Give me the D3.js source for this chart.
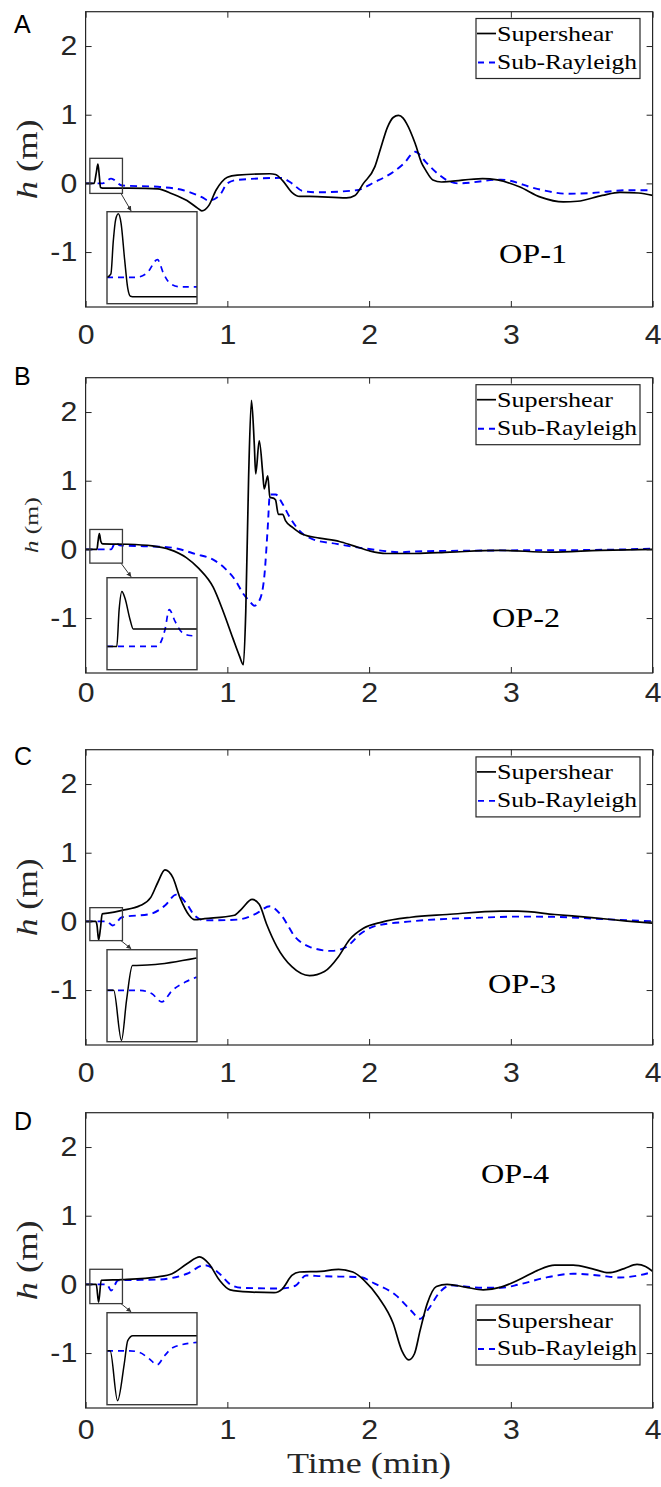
<!DOCTYPE html>
<html><head><meta charset="utf-8">
<script src="https://cdn.jsdelivr.net/npm/d3@7"></script>
<style>body{margin:0;background:#fff} svg{display:block}
.sans{font-family:"Liberation Sans",Arial,Helvetica,sans-serif}
.serif{font-family:"Liberation Serif","Times New Roman",Times,serif}
</style>
</head><body>
<script>
// ---------- labels / ticks ----------
const timeTicks = [0, 1, 2, 3, 4];
const hTicks = [-1, 0, 1, 2];
const panelLetters = ["A", "B", "C", "D"];
const opLabels = ["OP-1", "OP-2", "OP-3", "OP-4"];
const seriesNames = ["Supershear", "Sub-Rayleigh"];
const xTitle = "Time (min)";
const xDomain = [0, 4];
const hDomain = [-1.8, 2.5];
const insetTDomain = [0.03, 0.26];

// ---------- Panel A (OP-1) ----------
const superA_t = [0,0.06,0.075,0.087,0.097,0.105,0.12,0.3,0.51,0.61,0.715,0.79,0.82,0.87,0.92,0.96,1.0,1.07,1.30,1.34,1.39,1.455,1.51,1.58,1.84,1.9,1.96,2.04,2.08,2.13,2.17,2.207,2.24,2.265,2.325,2.37,2.40,2.45,2.51,2.575,2.80,2.905,3.06,3.21,3.37,3.47,3.645,3.77,3.9,4.0];
const superA_h = [0,0,0.15,0.28,0.1,-0.06,-0.068,-0.07,-0.08,-0.15,-0.25,-0.36,-0.40,-0.32,-0.1,0.02,0.09,0.12,0.14,0.13,0.04,-0.13,-0.19,-0.19,-0.21,-0.175,0,0.24,0.5,0.82,0.96,0.99,0.95,0.87,0.58,0.3,0.19,0.05,0.02,0.03,0.07,0.05,-0.05,-0.2,-0.27,-0.26,-0.175,-0.13,-0.14,-0.175];
const subA_t = [0,0.12,0.18,0.257,0.51,0.69,0.82,0.868,0.945,1.0,1.07,1.38,1.455,1.53,1.63,1.91,2.04,2.17,2.245,2.325,2.40,2.485,2.55,2.63,2.93,3.185,3.39,3.57,3.82,4.0];
const subA_h = [0,0,0.07,-0.03,-0.05,-0.1,-0.2,-0.25,-0.175,0,0.05,0.08,0,-0.11,-0.13,-0.1,0.02,0.165,0.29,0.46,0.31,0.14,0.045,0,0.055,-0.08,-0.15,-0.14,-0.1,-0.1];
const insetA_h = [-0.146, 0.365];
const insetSuperA_t = [0.03,0.04,0.046,0.052,0.059,0.066,0.075,0.083,0.09,0.1,0.26];
const insetSuperA_h = [0,0.02,0.2,0.32,0.353,0.3,0.1,-0.06,-0.105,-0.108,-0.108];
const insetSubA_t = [0.03,0.102,0.132,0.159,0.174,0.191,0.217,0.26];
const insetSubA_h = [0,0,0.024,0.099,0.024,-0.033,-0.052,-0.052];

// ---------- Panel B (OP-2) ----------
const superB_t = [0,0.08,0.088,0.097,0.107,0.12,0.3,0.47,0.59,0.71,0.80,0.90,0.97,1.04,1.085,1.113,1.13,1.15,1.17,1.19,1.20,1.225,1.25,1.26,1.285,1.30,1.33,1.34,1.36,1.39,1.41,1.46,1.53,1.65,1.79,1.885,2.0,2.12,2.33,2.57,2.92,3.28,3.63,4.0];
const superB_h = [0,0,0.12,0.23,0.12,0.08,0.075,0.05,0.0,-0.12,-0.28,-0.55,-0.9,-1.3,-1.55,-1.68,-0.9,1.05,2.17,1.53,1.1,1.58,1.1,0.88,1.07,0.76,0.74,0.72,0.51,0.51,0.42,0.32,0.22,0.165,0.115,0.055,-0.02,-0.06,-0.06,-0.04,-0.015,-0.04,-0.015,0.0];
const subB_t = [0,0.18,0.21,0.24,0.285,0.59,0.78,0.90,0.99,1.06,1.11,1.155,1.19,1.225,1.26,1.285,1.30,1.34,1.39,1.44,1.51,1.60,1.77,2.0,2.22,2.33,2.92,3.5,4.0];
const subB_h = [0,0,0.1,0.06,0.055,0.03,-0.07,-0.15,-0.29,-0.46,-0.64,-0.75,-0.82,-0.75,-0.41,0.32,0.80,0.80,0.66,0.47,0.27,0.15,0.08,0.005,-0.04,-0.03,-0.015,-0.01,0.01];
const insetB_h = [-0.2, 0.29];
const insetSuperB_t = [0.03,0.055,0.061,0.068,0.076,0.089,0.097,0.26];
const insetSuperB_h = [-0.076,-0.076,0.12,0.217,0.18,0.066,0.017,0.017];
const insetSubB_t = [0.03,0.157,0.178,0.189,0.204,0.221,0.242,0.26];
const insetSubB_h = [-0.076,-0.076,0.011,0.12,0.057,0.0,-0.018,-0.02];

// ---------- Panel C (OP-3) ----------
const superC_t = [0,0.07,0.08,0.092,0.105,0.117,0.156,0.257,0.385,0.46,0.51,0.56,0.615,0.665,0.73,0.767,0.84,1.05,1.10,1.175,1.225,1.275,1.35,1.455,1.58,1.685,1.785,1.86,1.96,2.09,2.295,2.55,2.93,3.05,3.31,3.57,3.82,4.0];
const superC_h = [0,0,-0.05,-0.27,-0.1,0.11,0.12,0.16,0.23,0.35,0.57,0.75,0.64,0.35,0.09,0.025,0.04,0.09,0.18,0.32,0.25,-0.03,-0.37,-0.66,-0.79,-0.73,-0.51,-0.27,-0.1,-0.01,0.06,0.1,0.15,0.15,0.1,0.055,0.005,-0.025];
const subC_t = [0,0.15,0.19,0.257,0.46,0.56,0.64,0.715,0.767,0.84,1.07,1.2,1.30,1.38,1.48,1.58,1.735,1.84,1.94,2.04,2.295,2.80,3.06,3.31,3.69,4.0];
const subC_h = [0,0,-0.06,0.06,0.11,0.23,0.39,0.25,0.09,0.015,0.025,0.11,0.22,0.09,-0.23,-0.37,-0.43,-0.37,-0.18,-0.07,0.0,0.055,0.07,0.065,0.03,0.0];
const insetC_h = [-0.28, 0.2];
const insetSuperC_t = [0.03,0.047,0.067,0.08,0.095,0.143,0.259];
const insetSuperC_h = [-0.012,-0.012,-0.273,-0.063,0.117,0.121,0.157];
const insetSubC_t = [0.03,0.112,0.144,0.17,0.197,0.23,0.259];
const insetSubC_h = [-0.012,-0.012,-0.029,-0.072,-0.012,0.031,0.057];

// ---------- Panel D (OP-4) ----------
const superD_t = [0,0.075,0.092,0.11,0.257,0.51,0.61,0.715,0.805,0.87,0.945,1.02,1.15,1.33,1.39,1.455,1.51,1.66,1.785,1.885,1.965,2.065,2.17,2.23,2.28,2.32,2.36,2.41,2.475,2.55,2.68,2.805,2.93,3.06,3.185,3.31,3.44,3.57,3.69,3.80,3.89,3.95,4.0];
const superD_h = [0,0,-0.26,0.06,0.07,0.11,0.155,0.3,0.4,0.3,0.06,-0.08,-0.11,-0.12,-0.06,0.13,0.18,0.19,0.22,0.18,0.06,-0.185,-0.57,-0.96,-1.10,-1.01,-0.67,-0.28,-0.03,0.0,-0.04,-0.08,-0.04,0.07,0.2,0.28,0.28,0.23,0.17,0.23,0.29,0.26,0.19];
const subD_t = [0,0.15,0.18,0.23,0.51,0.715,0.84,0.945,1.02,1.10,1.38,1.48,1.555,1.66,1.94,2.04,2.19,2.295,2.36,2.42,2.50,2.575,2.805,2.93,3.06,3.26,3.44,3.62,3.77,3.90,4.0];
const subD_h = [0,0,-0.09,0.06,0.07,0.155,0.28,0.155,0.0,-0.05,-0.06,-0.02,0.13,0.12,0.105,0.01,-0.16,-0.38,-0.5,-0.355,-0.11,-0.015,-0.05,-0.05,0.0,0.105,0.155,0.13,0.1,0.13,0.18];
const insetD_h = [-0.28, 0.22];
const insetSuperD_t = [0.03,0.038,0.057,0.074,0.083,0.096,0.26];
const insetSuperD_h = [0.013,0.013,-0.258,-0.059,0.068,0.095,0.095];
const insetSubD_t = [0.03,0.088,0.113,0.139,0.158,0.177,0.199,0.26];
const insetSubD_h = [0.013,0.013,0.004,-0.032,-0.063,-0.014,0.031,0.059];

const panels = [
  {sT:superA_t,sH:superA_h,rT:subA_t,rH:subA_h,iy:insetA_h,isT:insetSuperA_t,isH:insetSuperA_h,irT:insetSubA_t,irH:insetSubA_h},
  {sT:superB_t,sH:superB_h,rT:subB_t,rH:subB_h,iy:insetB_h,isT:insetSuperB_t,isH:insetSuperB_h,irT:insetSubB_t,irH:insetSubB_h},
  {sT:superC_t,sH:superC_h,rT:subC_t,rH:subC_h,iy:insetC_h,isT:insetSuperC_t,isH:insetSuperC_h,irT:insetSubC_t,irH:insetSubC_h},
  {sT:superD_t,sH:superD_h,rT:subD_t,rH:subD_h,iy:insetD_h,isT:insetSuperD_t,isH:insetSuperD_h,irT:insetSubD_t,irH:insetSubD_h}
];

// ---------- layout (pixels) ----------
const plotL = 85.6, plotR = 652.6, plotH = 295.3;
const layout = [
  {top:11.7,  lblPad:18, letterY:33,   op:[533,263],  leg:6.8,  ylab:{x:37, len:80, fs:24}},
  {top:377.7, lblPad:10, letterY:385,  op:[526,627],  leg:7.0,  ylab:{x:38, len:56, fs:16}},
  {top:749.7, lblPad:18, letterY:765,  op:[522,993],  leg:7.2,  ylab:{x:37, len:78, fs:24}},
  {top:1112.7,lblPad:12, letterY:1130, op:[515,1183], leg:192.3,ylab:{x:37, len:80, fs:24}}
];
const AX = "#262626";
const tickFmt = d => String(d);

const svg = d3.select("body").append("svg").attr("width", 661).attr("height", 1487);
svg.append("defs").append("marker").attr("id","arr").attr("viewBox","0 0 10 10")
  .attr("refX",9).attr("refY",5).attr("markerWidth",5).attr("markerHeight",5).attr("orient","auto")
  .append("path").attr("d","M0,0 L10,5 L0,10 z").attr("fill","#333");

const x = d3.scaleLinear().domain(xDomain).range([plotL, plotR]);

panels.forEach((p, i) => {
  const L = layout[i];
  const top = L.top, bot = L.top + plotH;
  const y = d3.scaleLinear().domain(hDomain).range([bot, top]);
  const g = svg.append("g");

  const clipId = "clip" + i;
  svg.select("defs").append("clipPath").attr("id", clipId)
    .append("rect").attr("x", plotL).attr("y", top).attr("width", plotR - plotL).attr("height", plotH);

  const line = d3.line().x(d => x(d[0])).y(d => y(d[1])).curve(d3.curveMonotoneX);
  const cg = g.append("g").attr("clip-path", `url(#${clipId})`);
  cg.append("path").datum(d3.zip(p.rT, p.rH)).attr("d", line)
    .attr("fill","none").attr("stroke","#0000ff").attr("stroke-width",1.9).attr("stroke-dasharray","7,5");
  cg.append("path").datum(d3.zip(p.sT, p.sH)).attr("d", line)
    .attr("fill","none").attr("stroke","#000").attr("stroke-width",1.7);

  // axes
  const ax = g.append("g").attr("transform", `translate(0,${bot})`)
    .call(d3.axisBottom(x).tickValues(timeTicks).tickSize(-6).tickPadding(L.lblPad).tickFormat(tickFmt));
  ax.attr("font-family", null).attr("font-size", null);
  ax.select(".domain").remove();
  ax.selectAll("line").attr("stroke", AX);
  ax.selectAll("text").attr("class","sans").style("font-size","27px").attr("fill", AX)
    .attr("transform", "scale(1.12,1)");
  const axT = g.append("g").attr("transform", `translate(0,${top})`)
    .call(d3.axisTop(x).tickValues(timeTicks).tickSize(-6).tickFormat(""));
  axT.select(".domain").remove(); axT.selectAll("line").attr("stroke", AX);

  const ay = g.append("g").attr("transform", `translate(${plotL},0)`)
    .call(d3.axisLeft(y).tickValues(hTicks).tickSize(-6).tickPadding(7.5).tickFormat(tickFmt));
  ay.attr("font-family", null).attr("font-size", null);
  ay.select(".domain").remove();
  ay.selectAll("line").attr("stroke", AX);
  ay.selectAll("text").attr("class","sans").style("font-size","27px").attr("fill", AX)
    .attr("transform", "scale(1.12,1)");
  const ayR = g.append("g").attr("transform", `translate(${plotR},0)`)
    .call(d3.axisRight(y).tickValues(hTicks).tickSize(-6).tickFormat(""));
  ayR.select(".domain").remove(); ayR.selectAll("line").attr("stroke", AX);

  g.append("rect").attr("x", plotL).attr("y", top).attr("width", plotR - plotL).attr("height", plotH)
    .attr("fill","none").attr("stroke", AX).attr("stroke-width", 1.2);

  // small zoom box + inset
  const sx0 = x(insetTDomain[0]), sx1 = x(insetTDomain[1]);
  const sy0 = y(p.iy[1]), sy1 = y(p.iy[0]);
  g.append("rect").attr("x", sx0).attr("y", sy0).attr("width", sx1 - sx0).attr("height", sy1 - sy0)
    .attr("fill","none").attr("stroke","#3a3a3a").attr("stroke-width",1.3);
  const iL = 107, iR = 197, iT = top + 200, iB = top + 292;
  g.append("line").attr("x1", sx1 - 1.5).attr("y1", sy1).attr("x2", 131).attr("y2", iT - 1)
    .attr("stroke","#333").attr("stroke-width",1).attr("marker-end","url(#arr)");
  g.append("rect").attr("x", iL).attr("y", iT).attr("width", iR - iL).attr("height", iB - iT)
    .attr("fill","#fff");
  const ix = d3.scaleLinear().domain(insetTDomain).range([iL, iR]);
  const iy = d3.scaleLinear().domain(p.iy).range([iB, iT]);
  const iclip = "iclip" + i;
  svg.select("defs").append("clipPath").attr("id", iclip)
    .append("rect").attr("x", iL).attr("y", iT).attr("width", iR - iL).attr("height", iB - iT);
  const iline = d3.line().x(d => ix(d[0])).y(d => iy(d[1])).curve(d3.curveMonotoneX);
  const ig = g.append("g").attr("clip-path", `url(#${iclip})`);
  ig.append("path").datum(d3.zip(p.irT, p.irH)).attr("d", iline)
    .attr("fill","none").attr("stroke","#0000ff").attr("stroke-width",1.7).attr("stroke-dasharray","6,5");
  ig.append("path").datum(d3.zip(p.isT, p.isH)).attr("d", iline)
    .attr("fill","none").attr("stroke","#000").attr("stroke-width",1.5);
  g.append("rect").attr("x", iL).attr("y", iT).attr("width", iR - iL).attr("height", iB - iT)
    .attr("fill","none").attr("stroke","#3a3a3a").attr("stroke-width",1.4);

  // legend
  const lt = top + L.leg;
  g.append("rect").attr("x", 476).attr("y", lt).attr("width", 164).attr("height", 60)
    .attr("fill","#fff").attr("stroke", AX).attr("stroke-width", 1.2);
  g.append("line").attr("x1", 477).attr("x2", 496).attr("y1", lt + 15).attr("y2", lt + 15)
    .attr("stroke","#000").attr("stroke-width",1.7);
  g.append("line").attr("x1", 478).attr("x2", 496).attr("y1", lt + 44).attr("y2", lt + 44)
    .attr("stroke","#0000ff").attr("stroke-width",1.9).attr("stroke-dasharray","6,5");
  g.append("text").attr("class","serif").attr("x", 497).attr("y", lt + 22.5).text(seriesNames[0])
    .style("font-size","22px").attr("fill","#000")
    .attr("textLength", 116).attr("lengthAdjust","spacingAndGlyphs");
  g.append("text").attr("class","serif").attr("x", 497).attr("y", lt + 50).text(seriesNames[1])
    .style("font-size","22px").attr("fill","#000")
    .attr("textLength", 140).attr("lengthAdjust","spacingAndGlyphs");

  // OP label
  g.append("text").attr("class","serif").attr("x", L.op[0]).attr("y", L.op[1]).attr("text-anchor","middle").text(opLabels[i])
    .style("font-size","28px").attr("fill","#000")
    .attr("textLength", 68).attr("lengthAdjust","spacingAndGlyphs");

  // panel letter
  g.append("text").attr("class","sans").attr("x", 14).attr("y", L.letterY).text(panelLetters[i])
    .style("font-size","25px").attr("fill","#000");

  // y label
  const cy = (top + bot) / 2;
  const yl = g.append("text").attr("class","serif")
    .attr("transform", `translate(${L.ylab.x},${cy}) scale(1.2,1) rotate(-90)`)
    .attr("text-anchor","middle").style("font-size", L.ylab.fs + "px").attr("fill", AX)
    .attr("textLength", L.ylab.len).attr("lengthAdjust","spacingAndGlyphs");
  yl.append("tspan").style("font-style","italic").text("h");
  yl.append("tspan").text(" (m)");
});

svg.append("text").attr("class","serif").attr("x", 369).attr("y", 1473).attr("text-anchor","middle").text(xTitle)
  .style("font-size","30px").attr("fill", AX)
  .attr("textLength", 164).attr("lengthAdjust","spacingAndGlyphs");
</script>
</body></html>
